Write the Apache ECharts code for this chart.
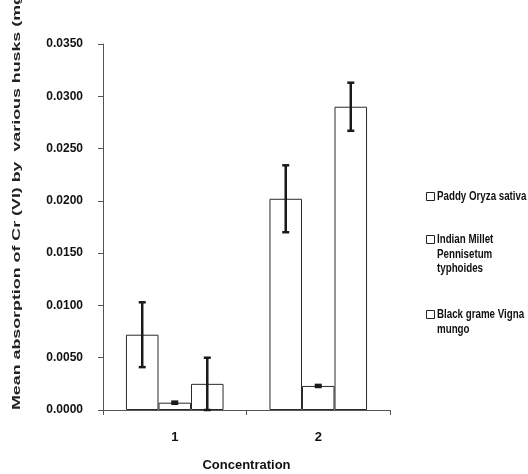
<!DOCTYPE html>
<html>
<head>
<meta charset="utf-8">
<script src="https://cdn.jsdelivr.net/npm/echarts@6/dist/echarts.min.js"></script>
<style>
  html, body { margin: 0; padding: 0; background: #fff; }
  #chart { width: 528px; height: 474px; }
</style>
</head>
<body>
<div id="chart"></div>
<script>
// Concentration groups on the x axis
const categories = ['1', '2'];

// Husk types (one bar series each)
const seriesNames = ['Paddy Oryza sativa', 'Indian Millet Pennisetum typhoides', 'Black grame Vigna mungo'];
const legendLines = [
  ['Paddy Oryza sativa'],
  ['Indian Millet', 'Pennisetum', 'typhoides'],
  ['Black grame Vigna', 'mungo']
];

// Mean absorption values and their standard errors
const paddyMean = [0.0072, 0.0202];
const paddyErr = [0.0031, 0.0032];
const milletMean = [0.0007, 0.0023];
const milletErr = [0.0001, 0.0001];
const blackMean = [0.0025, 0.0290];
const blackErr = [0.0025, 0.0023];

const yTicks = [0, 0.005, 0.01, 0.015, 0.02, 0.025, 0.03, 0.035];

const yTitle = 'Mean absorption of Cr (VI) by  various husks (mg/g)';

const means = [paddyMean, milletMean, blackMean];
const errs = [paddyErr, milletErr, blackErr];

const CAT_GAP = 0.32;
const SANS = '"Liberation Sans", Arial, sans-serif';
const TITLE_FONT = 'bold 11.5px ' + SANS;

// Spread the axis title along its run: measure the unstretched text
function measure(text, font) {
  const c = document.createElement('canvas').getContext('2d');
  c.font = font;
  return c.measureText(text).width;
}
const titleStretch = 405 / measure('Mean absorption of Cr (VI) by  various husks (m', TITLE_FONT);

const chart = echarts.init(document.getElementById('chart'), null, { renderer: 'canvas' });

function errorRenderer(sIdx) {
  return function (params, api) {
    const ci = api.value(0);
    const v = api.value(1);
    const e = api.value(2);
    const band = api.size([1, 0])[0];
    const barW = band * (1 - CAT_GAP) / 3;
    const cx = api.coord([ci, v])[0] + (sIdx - 1) * barW;
    const yHi = api.coord([ci, v + e])[1];
    const yLo = api.coord([ci, v - e])[1];
    const cap = 3.5;
    const style = { stroke: '#1a1a1a', lineWidth: 2.5 };
    return {
      type: 'group',
      children: [
        { type: 'line', shape: { x1: cx, y1: yHi, x2: cx, y2: yLo }, style },
        { type: 'line', shape: { x1: cx - cap, y1: yHi, x2: cx + cap, y2: yHi }, style },
        { type: 'line', shape: { x1: cx - cap, y1: yLo, x2: cx + cap, y2: yLo }, style }
      ]
    };
  };
}

const series = [];
means.forEach(function (arr, i) {
  series.push({
    name: seriesNames[i],
    type: 'bar',
    data: arr,
    barGap: '0%',
    barCategoryGap: (CAT_GAP * 100) + '%',
    itemStyle: { color: '#ffffff', borderColor: '#2a2a2a', borderWidth: 1 },
    silent: true
  });
});
means.forEach(function (arr, i) {
  series.push({
    type: 'custom',
    renderItem: errorRenderer(i),
    data: arr.map(function (v, k) { return [k, v, errs[i][k]]; }),
    z: 5,
    silent: true
  });
});

// Legend drawn as outlined squares with wrapped, condensed labels
const legendTops = [197, 240, 315];
const graphics = [];
legendLines.forEach(function (lines, i) {
  graphics.push({
    type: 'rect',
    shape: { x: 426.5, y: legendTops[i] - 4.5, width: 8, height: 8 },
    style: { fill: '#fff', stroke: '#222', lineWidth: 1 }
  });
  graphics.push({
    type: 'text',
    x: 437,
    y: legendTops[i] - 7.5,
    scaleX: 0.78,
    style: {
      text: lines.join('\n'),
      font: 'bold 12.5px ' + SANS,
      fill: '#111',
      lineHeight: 14.5,
      textAlign: 'left',
      textVerticalAlign: 'top'
    }
  });
});

// Rotated y-axis title, running upward from the baseline
graphics.push({
  type: 'text',
  x: 17,
  y: 410,
  rotation: Math.PI / 2,
  scaleX: titleStretch,
  style: {
    text: yTitle,
    font: TITLE_FONT,
    fill: '#222',
    textAlign: 'left',
    textVerticalAlign: 'middle'
  }
});

chart.setOption({
  animation: false,
  backgroundColor: '#ffffff',
  grid: { left: 103, right: 138, top: 44, bottom: 64, containLabel: false, outerBoundsMode: 'none' },
  xAxis: {
    type: 'category',
    data: categories,
    name: 'Concentration',
    nameLocation: 'middle',
    nameGap: 49,
    nameTextStyle: { color: '#111', fontWeight: 'bold', fontSize: 13, fontFamily: SANS },
    axisLine: { lineStyle: { color: '#555', width: 1 } },
    axisTick: { show: true, length: 5, alignWithLabel: false, lineStyle: { color: '#555' } },
    axisLabel: { margin: 21, color: '#111', fontWeight: 'bold', fontSize: 13, fontFamily: SANS }
  },
  yAxis: {
    type: 'value',
    min: 0,
    max: 0.035,
    interval: 0.005,
    splitLine: { show: false },
    axisLine: { show: true, lineStyle: { color: '#555', width: 1 } },
    axisTick: { show: true, length: 5, lineStyle: { color: '#555' } },
    axisLabel: {
      margin: 20,
      color: '#111',
      fontWeight: 'bold',
      fontSize: 12,
      fontFamily: SANS,
      formatter: function (v) {
        const t = yTicks.find(function (x) { return Math.abs(x - v) < 1e-9; });
        return (t === undefined ? v : t).toFixed(4);
      }
    }
  },
  series: series,
  graphic: graphics
});
</script>
</body>
</html>
